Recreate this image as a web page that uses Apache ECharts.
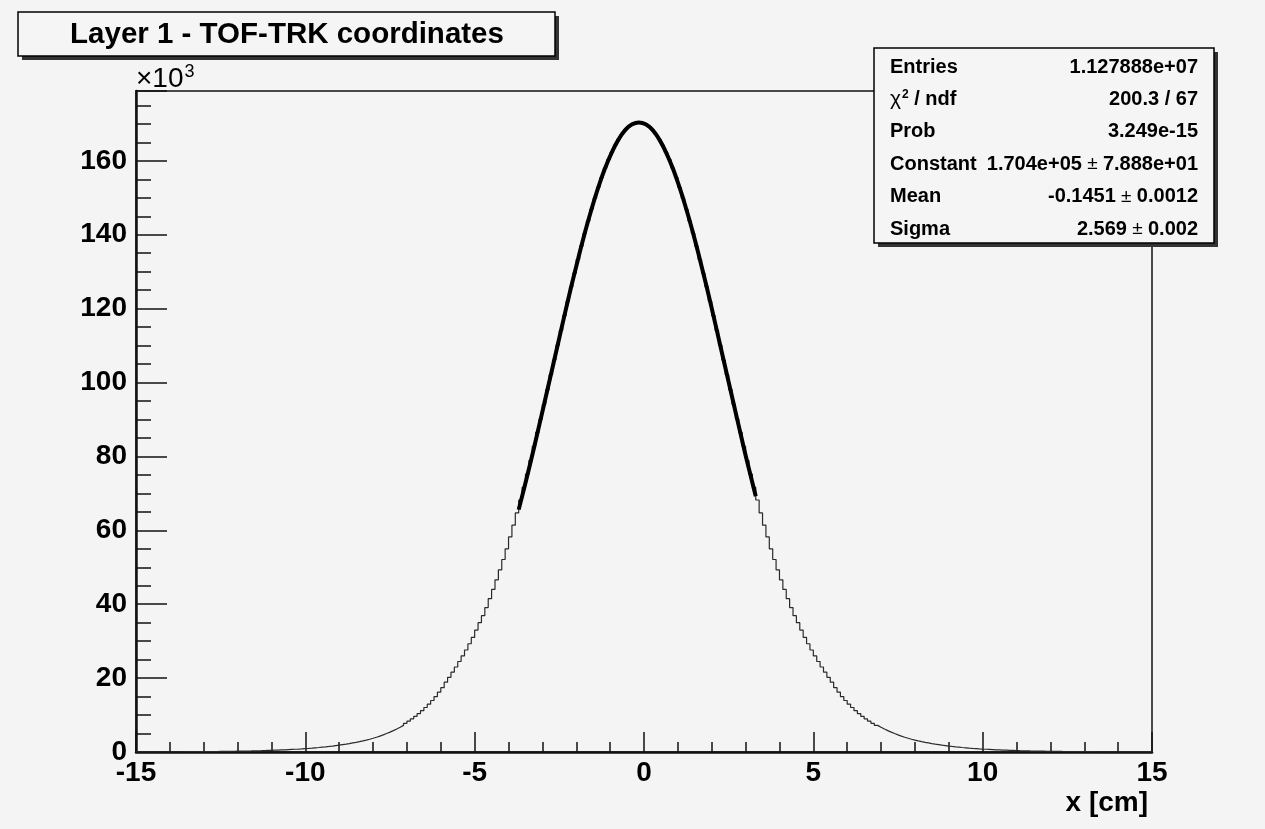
<!DOCTYPE html>
<html><head><meta charset="utf-8">
<script src="https://cdn.jsdelivr.net/npm/echarts@6/dist/echarts.min.js"></script>
<style>html,body{margin:0;padding:0;background:#f4f4f4}#c{width:1265px;height:829px}</style>
</head><body><div id="c"></div>
<script>
// Histogram: 300 bins of 0.1 cm from -15 to 15, counts in thousands
const binLow = -15;
const binWidth = 0.1;
const binCounts = [
  0.03,0.03,0.03,0.04,0.04,0.04,0.04,0.05,0.05,0.05,      // -15..-14
  0.06,0.06,0.07,0.07,0.08,0.08,0.09,0.09,0.10,0.11,      // -14..-13
  0.11,0.12,0.13,0.14,0.15,0.16,0.18,0.19,0.20,0.22,      // -13..-12
  0.24,0.25,0.27,0.29,0.32,0.34,0.36,0.39,0.42,0.45,      // -12..-11
  0.49,0.52,0.56,0.60,0.65,0.70,0.75,0.80,0.86,0.93,      // -11..-10
  0.99,1.06,1.14,1.22,1.31,1.40,1.50,1.61,1.73,1.85,      // -10..-9
  1.99,2.13,2.28,2.45,2.62,2.81,3.01,3.23,3.46,3.72,      // -9..-8
  4.00,4.31,4.64,4.99,5.37,5.78,6.22,6.69,7.20,7.75,      // -8..-7
  8.34,8.97,9.66,10.39,11.18,12.04,12.95,13.94,15.0,16.2, // -7..-6
  17.4,18.9,20.2,21.6,23.0,24.5,26.0,27.6,29.3,31.0,      // -6..-5
  33.0,35.0,36.9,39.1,41.5,44.0,46.6,49.3,52.1,55.0,      // -5..-4
  58.2,61.4,64.7,68.2,71.6,75.2,78.9,82.7,86.5,90.1,      // -4..-3
  94.1,98.1,102.1,106.1,110.1,114.1,118.1,122.0,125.9,129.6, // -3..-2
  133.3,136.9,140.4,143.7,146.9,149.9,152.8,155.5,158.0,160.3, // -2..-1
  162.3,164.2,165.8,167.2,168.4,169.2,169.9,170.3,170.4,170.3, // -1..0
  169.9,169.2,168.4,167.2,165.8,164.2,162.3,160.3,158.0,155.5, // 0..1
  152.8,149.9,146.9,143.7,140.4,136.9,133.3,129.6,125.9,122.0, // 1..2
  118.1,114.1,110.1,106.1,102.1,98.1,94.1,90.1,86.5,82.7,      // 2..3
  78.9,75.2,71.6,68.2,64.7,61.4,58.2,55.0,52.1,49.3,      // 3..4
  46.6,44.0,41.5,39.1,36.9,35.0,33.0,31.0,29.3,27.6,      // 4..5
  26.0,24.5,23.0,21.6,20.2,18.9,17.4,16.2,15.0,13.94,     // 5..6
  12.95,12.04,11.18,10.39,9.66,8.97,8.34,7.75,7.20,6.69,  // 6..7
  6.22,5.78,5.37,4.99,4.64,4.31,4.00,3.72,3.46,3.23,      // 7..8
  3.01,2.81,2.62,2.45,2.28,2.13,1.99,1.85,1.73,1.61,      // 8..9
  1.50,1.40,1.31,1.22,1.14,1.06,0.99,0.93,0.86,0.80,      // 9..10
  0.75,0.70,0.65,0.60,0.56,0.52,0.49,0.45,0.42,0.39,      // 10..11
  0.36,0.34,0.32,0.29,0.27,0.25,0.24,0.22,0.20,0.19,      // 11..12
  0.18,0.16,0.15,0.14,0.13,0.12,0.11,0.11,0.10,0.09,      // 12..13
  0.09,0.08,0.08,0.07,0.07,0.06,0.06,0.05,0.05,0.05,      // 13..14
  0.04,0.04,0.04,0.04,0.03,0.03,0.03,0.03,0.03,0.02       // 14..15
];
// Gaussian fit curve over the fit range (thousands)
const fitX = [-3.70,-3.55,-3.35,-3.15,-2.95,-2.75,-2.55,-2.35,-2.15,-1.95,-1.75,-1.55,-1.35,-1.15,-0.95,-0.75,-0.55,-0.35,-0.15,
              0.05,0.25,0.45,0.65,0.85,1.05,1.25,1.45,1.65,1.85,2.05,2.25,2.45,2.65,2.85,3.05,3.30];
const fitY = [65.6,71.0,78.4,86.2,94.1,102.1,110.1,118.1,125.9,133.3,140.4,146.9,152.8,158.0,162.3,165.8,168.4,169.9,170.4,
              169.9,168.4,165.8,162.3,158.0,152.8,146.9,140.4,133.3,125.9,118.1,110.1,102.1,94.1,86.2,78.4,69.2];
const xRange = [-15, 15];
const yRange = [0, 178.9];
const titleText = 'Layer 1 - TOF-TRK coordinates';
const xTitle = 'x [cm]';
const yScaleText = '×10{s|3}';
const statNames = ['Entries', '{g|χ}{s|2}{n| / ndf}', 'Prob', 'Constant', 'Mean', 'Sigma'];
const statValues = ['1.127888e+07', '200.3 / 67', '3.249e-15', '1.704e+05{pm| ± }7.888e+01', '-0.1451{pm| ± }0.0012', '2.569{pm| ± }0.002'];

const FONT = 'Liberation Sans, Arial, Helvetica, sans-serif';
const histData = binCounts.map((v, i) => [binLow + i * binWidth, v]);
histData.push([binLow + binCounts.length * binWidth, binCounts[binCounts.length - 1]]);
const fitData = fitX.map((x, i) => [x, fitY[i]]);

const chart = echarts.init(document.getElementById('c'), null, {renderer: 'canvas'});

const statEls = [];
const statRich = {
  g: {fontFamily: FONT, fontSize: 21, fontWeight: 'normal', fill: '#000'},
  s: {fontFamily: FONT, fontSize: 12, fontWeight: 'bold', verticalAlign: 'top', padding: [0,0,10,1]},
  n: {fontFamily: FONT, fontSize: 20, fontWeight: 'bold'},
  pm: {fontFamily: FONT, fontSize: 19, fontWeight: 'normal'}
};
statNames.forEach((n, i) => {
  const y = 67 + i * 32.4;
  statEls.push({type: 'text', z: 102, style: {x: 890, y: y, text: n, align: 'left', verticalAlign: 'middle', fontFamily: FONT, fontSize: 20, fontWeight: 'bold', fill: '#000', rich: statRich}});
  statEls.push({type: 'text', z: 102, style: {x: 1198, y: y, text: statValues[i], align: 'right', verticalAlign: 'middle', fontFamily: FONT, fontSize: 20, fontWeight: 'bold', fill: '#000', rich: statRich}});
});

chart.setOption({
  backgroundColor: '#f4f4f4',
  animation: false,
  grid: {left: 136, top: 91, width: 1016, height: 661, show: true, borderColor: '#111', borderWidth: 1.5, backgroundColor: 'transparent', containLabel: false},
  xAxis: [{
    type: 'value', min: xRange[0], max: xRange[1], interval: 5, position: 'bottom',
    axisLine: {show: true, onZero: false, lineStyle: {color: '#111', width: 2.5}},
    axisTick: {show: true, inside: true, length: 20, lineStyle: {color: '#111', width: 1.5}},
    minorTick: {show: true, splitNumber: 5, length: 10, lineStyle: {color: '#111', width: 1.5}},
    splitLine: {show: false},
    axisLabel: {color: '#000', fontSize: 28, fontWeight: 'bold', fontFamily: FONT, margin: 7}
  }],
  yAxis: [{
    type: 'value', min: yRange[0], max: yRange[1], interval: 20, position: 'left',
    axisLine: {show: true, onZero: false, lineStyle: {color: '#111', width: 2.5}},
    axisTick: {show: true, inside: true, length: 31, lineStyle: {color: '#111', width: 1.5}},
    splitLine: {show: false},
    axisLabel: {color: '#000', fontSize: 28, fontWeight: 'bold', fontFamily: FONT, margin: 9,
      formatter: v => (Math.abs(v % 20) < 1e-6 ? String(v) : '')}
  }, {
    type: 'value', min: yRange[0], max: yRange[1], interval: 5, position: 'left', offset: 0,
    axisLine: {show: false, onZero: false},
    axisTick: {show: true, inside: true, length: 15, lineStyle: {color: '#111', width: 1.5}},
    splitLine: {show: false},
    axisLabel: {show: false}
  }],
  series: [{
    type: 'line', data: histData, step: 'end', symbol: 'none', z: 3,
    lineStyle: {color: '#2a2a2a', width: 1.2}
  }, {
    type: 'line', data: fitData, smooth: 0.5, symbol: 'none', z: 4,
    lineStyle: {color: '#000', width: 4}
  }],
  graphic: [
    {type: 'rect', z: 100, shape: {x: 22, y: 16, width: 537, height: 44}, style: {fill: '#333'}},
    {type: 'rect', z: 101, shape: {x: 18, y: 12, width: 537, height: 44}, style: {fill: '#f5f5f5', stroke: '#000', lineWidth: 1.5}},
    {type: 'text', z: 102, style: {x: 287, y: 35, text: titleText, align: 'center', verticalAlign: 'middle', fontFamily: FONT, fontSize: 29.5, fontWeight: 'bold', fill: '#000'}},
    {type: 'text', z: 102, left: 136, top: 63, style: {text: yScaleText, fontFamily: FONT, fontSize: 28, fill: '#000',
      rich: {s: {fontFamily: FONT, fontSize: 18, verticalAlign: 'top', padding: [0, 0, 14, 1]}}}},
    {type: 'text', z: 102, style: {x: 1148, y: 803, text: xTitle, align: 'right', verticalAlign: 'middle', fontFamily: FONT, fontSize: 28, fontWeight: 'bold', fill: '#000'}},
    {type: 'rect', z: 100, shape: {x: 878, y: 52, width: 340, height: 195}, style: {fill: '#333'}},
    {type: 'rect', z: 101, shape: {x: 874, y: 48, width: 340, height: 195}, style: {fill: '#f5f5f5', stroke: '#000', lineWidth: 1.5}}
  ].concat(statEls)
});
</script></body></html>
